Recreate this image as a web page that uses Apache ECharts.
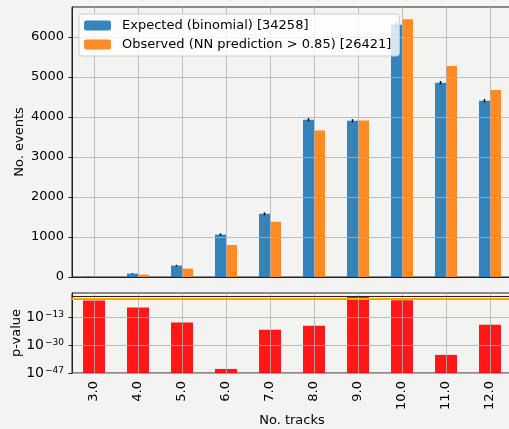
<!DOCTYPE html>
<html>
<head>
<meta charset="utf-8">
<script src="https://cdn.jsdelivr.net/npm/echarts@6/dist/echarts.min.js"></script>
<style>
html,body{margin:0;padding:0;background:#f3f3f2;}
#chart{width:509px;height:429px;}
</style>
</head>
<body>
<div id="chart"></div>
<script>
const categories = ['3.0','4.0','5.0','6.0','7.0','8.0','9.0','10.0','11.0','12.0'];
const expected = [3, 85, 285, 1060, 1580, 3930, 3905, 6305, 4855, 4405];
const expectedErr = [3, 10, 18, 30, 35, 40, 40, 45, 42, 40];
const observed = [2, 60, 210, 800, 1380, 3660, 3910, 6440, 5270, 4670];
// p-values as base-10 exponents (log10 p)
const pValueLog10 = [-2.6, -6.9, -16.1, -44.5, -20.5, -18.0, -0.1, -2.4, -35.9, -17.4];
const pThresholdLog10 = Math.log10(0.05);
const eventTicks = [0, 1000, 2000, 3000, 4000, 5000, 6000];
const pTickExponents = [-47, -30, -13];
const legendNames = ['Expected (binomial) [34258]', 'Observed (NN prediction > 0.85) [26421]'];

const P_MIN = -47, P_MAX = 2;
const FONT = 'DejaVu Sans';
const gridColor = 'rgba(176,176,176,0.8)';
const spine = '#222';

const chart = echarts.init(document.getElementById('chart'), null, {renderer: 'canvas'});

const option = {
  backgroundColor: '#f3f3f2',
  textStyle: {fontFamily: FONT},
  animation: false,
  grid: [
    {left: 72, top: 7, width: 440, height: 270, outerBoundsMode: 'none', containLabel: false,
      show: true, borderColor: spine, borderWidth: 1, backgroundColor: 'transparent'},
    {left: 72, top: 293, width: 440, height: 80, outerBoundsMode: 'none', containLabel: false,
      show: true, borderColor: spine, borderWidth: 1, backgroundColor: 'transparent'}
  ],
  legend: {
    data: legendNames,
    orient: 'vertical',
    left: 79, top: 14,
    itemWidth: 27, itemHeight: 10, itemGap: 4,
    padding: [4, 8, 4, 5],
    backgroundColor: 'rgba(255,255,255,0.8)',
    borderColor: '#cccccc', borderWidth: 1, borderRadius: 3,
    textStyle: {fontFamily: FONT, fontSize: 13, color: '#000', lineHeight: 15, padding: [0, 0, 0, 6]},
    z: 10
  },
  xAxis: [
    {
      type: 'category', data: categories, gridIndex: 0, z: 2,
      axisLine: {lineStyle: {color: spine}},
      axisTick: {alignWithLabel: true, interval: 0, length: 3.5, lineStyle: {color: spine}},
      axisLabel: {show: false},
      splitLine: {show: true, alignWithLabel: true, interval: 0, lineStyle: {color: gridColor, width: 1}}
    },
    {
      type: 'category', data: categories, gridIndex: 1, z: 2,
      name: 'No. tracks', nameLocation: 'middle', nameGap: 41, nameMoveOverlap: false,
      nameTextStyle: {fontFamily: FONT, fontSize: 13, color: '#000', verticalAlign: 'top'},
      axisLine: {lineStyle: {color: spine}},
      axisTick: {alignWithLabel: true, interval: 0, length: 3.5, lineStyle: {color: spine}},
      axisLabel: {interval: 0, rotate: 90, margin: 8, fontFamily: FONT, fontSize: 13, color: '#000'},
      splitLine: {show: true, alignWithLabel: true, interval: 0, lineStyle: {color: gridColor, width: 1}}
    }
  ],
  yAxis: [
    {
      type: 'value', gridIndex: 0, min: 0, max: 6746, interval: 1000, z: 2,
      name: 'No. events', nameLocation: 'middle', nameGap: 46, nameMoveOverlap: false,
      nameTextStyle: {fontFamily: FONT, fontSize: 13, color: '#000'},
      axisLine: {show: true, lineStyle: {color: spine}},
      axisTick: {show: true, length: 3.5, lineStyle: {color: spine}, customValues: eventTicks},
      axisLabel: {margin: 8, fontFamily: FONT, fontSize: 13, color: '#000',
        customValues: eventTicks,
        formatter: v => (eventTicks.indexOf(v) >= 0 ? String(v) : '')},
      splitLine: {show: true, lineStyle: {color: gridColor, width: 1}}
    },
    {
      type: 'value', gridIndex: 1, min: P_MIN, max: P_MAX, interval: 17, z: 2,
      name: 'p-value', nameLocation: 'middle', nameGap: 49, nameMoveOverlap: false,
      nameTextStyle: {fontFamily: FONT, fontSize: 13, color: '#000'},
      axisLine: {show: true, lineStyle: {color: spine}},
      axisTick: {show: true, length: 3.5, lineStyle: {color: spine}, customValues: pTickExponents},
      axisLabel: {
        margin: 8, fontFamily: FONT, color: '#000',
        customValues: pTickExponents,
        formatter: v => {
          if (pTickExponents.indexOf(v) < 0) return '';
          const s = v < 0 ? '\u2212' + (-v) : String(v);
          return '{b|10}{s|' + s + '}';
        },
        rich: {
          b: {fontFamily: FONT, fontSize: 14, color: '#000', verticalAlign: 'middle', lineHeight: 14},
          s: {fontFamily: FONT, fontSize: 9, color: '#000', verticalAlign: 'top', lineHeight: 9, padding: [0, 0, 0, 1]}
        }
      },
      splitLine: {show: true, lineStyle: {color: gridColor, width: 1}}
    }
  ],
  series: [
    {
      name: legendNames[0], type: 'bar', xAxisIndex: 0, yAxisIndex: 0,
      data: expected, barWidth: 11, barGap: '0%', z: 1,
      itemStyle: {color: 'rgba(31,119,180,0.9)'}
    },
    {
      name: legendNames[1], type: 'bar', xAxisIndex: 0, yAxisIndex: 0,
      data: observed, barWidth: 11, barGap: '0%', z: 1,
      itemStyle: {color: 'rgba(255,127,14,0.9)'}
    },
    {
      type: 'custom', xAxisIndex: 0, yAxisIndex: 0, z: 3,
      data: expected.map((v, i) => [i, v, expectedErr[i]]),
      renderItem: (params, api) => {
        const x = api.value(0), v = api.value(1), e = api.value(2);
        const lo = api.coord([x, v - e]);
        const hi = api.coord([x, v + e]);
        const off = api.size([1, 0])[0] * 0.125;
        return {type: 'line', shape: {x1: lo[0] - off, y1: lo[1], x2: hi[0] - off, y2: hi[1]},
          style: {stroke: '#000', lineWidth: 1.5}};
      }
    },
    {
      type: 'custom', xAxisIndex: 1, yAxisIndex: 1, z: 1,
      data: pValueLog10.map((p, i) => [i, p]),
      renderItem: (params, api) => {
        const x = api.value(0), v = api.value(1);
        const top = api.coord([x, v]);
        const base = api.coord([x, P_MIN]);
        const bw = api.size([1, 0])[0] * 0.5;
        return {type: 'rect', shape: {x: top[0] - bw / 2, y: top[1], width: bw, height: base[1] - top[1]},
          style: {fill: 'rgba(255,0,0,0.9)'}};
      },
      markLine: {
        silent: true, symbol: 'none', z: 5,
        label: {show: false},
        lineStyle: {color: '#ffa500', width: 2, type: 'solid'},
        data: [{yAxis: pThresholdLog10}]
      }
    }
  ]
};
chart.setOption(option);
</script>
</body>
</html>
